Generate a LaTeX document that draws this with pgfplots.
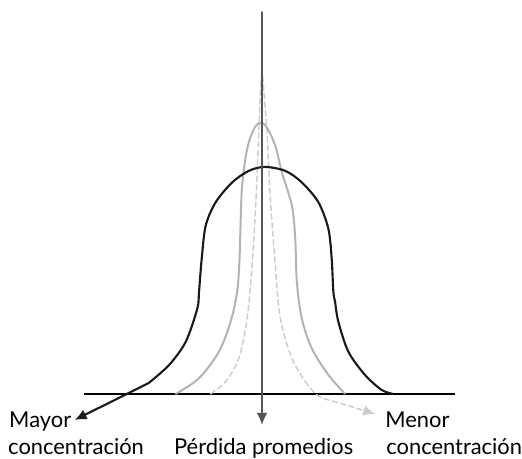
\documentclass[border=0pt]{standalone}
\usepackage{pgfplots}
\pgfplotsset{compat=1.18}
\usepackage{fontspec}
\setmainfont{Lato}
\usetikzlibrary{arrows.meta}
\definecolor{cblack}{HTML}{1A1A1A}
\definecolor{cgray}{HTML}{B3B3B5}
\definecolor{cdash}{HTML}{CDCDCF}
\definecolor{cvert}{HTML}{555555}
\begin{document}
\begin{tikzpicture}
\begin{axis}[
  scale only axis, width=391.5pt, height=344.25pt,
  xmin=0, xmax=522, ymin=0, ymax=459, y dir=reverse,
  hide axis, clip=false,
  every axis plot/.append style={line join=round, line cap=round},
]
\path (axis cs:0,0) rectangle (axis cs:522,459);
% baseline
\addplot[black, line width=1.8pt, line cap=butt] coordinates {(84,395.7) (457,395.7)};
% dashed curve
\addplot[cdash, line width=1.1pt, dash pattern=on 4pt off 2.5pt, smooth, tension=0.55] coordinates {
(211.7,395.7) (226.7,383.3) (240,360) (248.3,320) (253.3,266.7) (257.3,200) (260,133.3) (261.7,93.3) (263.3,73.3) (265.3,93.3) (268.3,133.3) (271.7,200) (276.7,266.7) (281.7,320) (293.3,360) (306.7,383.3)};
\addplot[cdash, line width=1.1pt, dash pattern=on 4pt off 2.5pt, smooth, tension=0.5, -{Latex[length=9pt,width=8pt]}] coordinates {
(306.7,383.3) (320,398) (346.7,406.7) (377,416)};
% gray curve
\addplot[cgray, line width=1.5pt, smooth, tension=0.55] coordinates {
(176.7,395.7) (200,380) (220,353.3) (231.7,323.3) (238.3,293.3) (240.7,260) (241.7,226.7) (243.3,186.7) (248.3,150) (255,130) (261.7,123.3) (268.3,128.3) (276.7,146.7) (283.3,173.3) (293.3,206.7) (296.7,240) (298.3,283.3) (303.3,320) (313.3,350) (330,376.7) (346.7,395.7)};
% black curve
\addplot[cblack, line width=1.6pt, smooth, tension=0.5] coordinates {
(149.3,385) (170,366.7) (186.7,343.3) (198.3,310) (200,293) (202.7,260) (206.7,226.7) (216.7,203.3) (233.3,183.3) (250,171.7) (266,167.7) (286.7,171.7) (303.3,183.3) (320,203.3) (330,230) (333.3,260) (335,293.3) (336.7,303.3) (340,323.3) (350,353.3) (366.7,376.7) (383.3,391.7) (394.3,395.7)};
\addplot[cblack, line width=1.6pt, -{Latex[length=9pt,width=8pt]}] coordinates {(149.3,385) (75,422)};
% vertical line
\addplot[cvert, line width=1.1pt, -{Latex[length=9pt,width=8pt]}] coordinates {(263.3,12) (263.3,427)};
% labels
\node[anchor=base west, inner sep=0pt, font=\fontsize{16.5}{18}\selectfont] at (axis cs:9,430) {Mayor};
\node[anchor=base west, inner sep=0pt, font=\fontsize{16.5}{18}\selectfont] at (axis cs:8,457) {concentración};
\node[anchor=base, inner sep=0pt, font=\fontsize{16.5}{18}\selectfont] at (axis cs:265,457) {Pérdida promedios};
\node[anchor=base west, inner sep=0pt, font=\fontsize{16.5}{18}\selectfont] at (axis cs:387,430) {Menor};
\node[anchor=base west, inner sep=0pt, font=\fontsize{16.5}{18}\selectfont] at (axis cs:388,457) {concentración};
\end{axis}
\end{tikzpicture}
\end{document}
